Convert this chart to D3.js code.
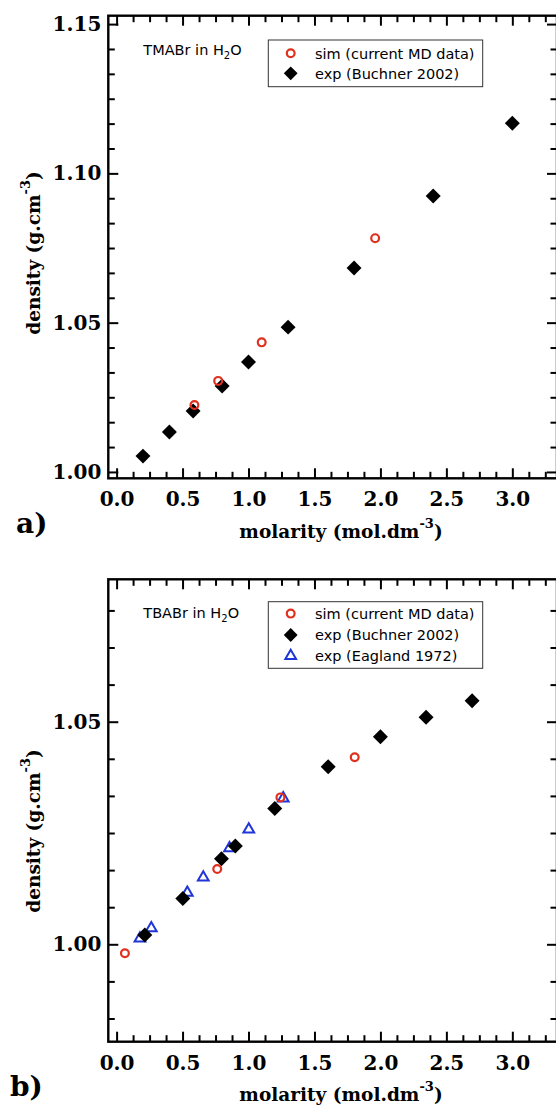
<!DOCTYPE html>
<html>
<head>
<meta charset="utf-8">
<script src="https://cdn.jsdelivr.net/npm/d3@7"></script>
<style>
  html, body { margin: 0; padding: 0; background: #fff; }
  svg { display: block; }
</style>
</head>
<body>
<svg id="chart" width="556" height="1106"></svg>
<script>
// ---------- data ----------
const xTickLabels = ["0.0", "0.5", "1.0", "1.5", "2.0", "2.5", "3.0"];
const yTickLabelsA = ["1.00", "1.05", "1.10", "1.15"];
const yTickLabelsB = ["1.00", "1.05"];

// panel a: TMABr in H2O
const tmaSimX = [0.59, 0.77, 1.10, 1.96];
const tmaSimY = [1.0224, 1.0305, 1.0434, 1.0783];
const tmaBuchX = [0.2, 0.4, 0.58, 0.8, 1.0, 1.3, 1.8, 2.4, 3.0];
const tmaBuchY = [1.0053, 1.0134, 1.0204, 1.0288, 1.0368, 1.0485, 1.0683, 1.0924, 1.1168];

// panel b: TBABr in H2O
const tbaSimX = [0.063, 0.763, 1.242, 1.805];
const tbaSimY = [0.9980, 1.0169, 1.0330, 1.0420];
const tbaBuchX = [0.214, 0.502, 0.795, 0.90, 1.199, 1.604, 2.0, 2.346, 2.695];
const tbaBuchY = [1.0021, 1.0103, 1.0192, 1.0221, 1.0305, 1.0399, 1.0466, 1.0510, 1.0547];
const tbaEagX = [0.177, 0.263, 0.536, 0.657, 0.856, 1.002, 1.263];
const tbaEagY = [1.0013, 1.0036, 1.0116, 1.0150, 1.0216, 1.0258, 1.0328];

const legendA = ["sim (current MD data)", "exp (Buchner 2002)"];
const legendB = ["sim (current MD data)", "exp (Buchner 2002)", "exp (Eagland 1972)"];

// ---------- styling ----------
const RED = "#e0301e", BLUE = "#1f35d8", BLACK = "#000";
const serif = "'DejaVu Serif', serif";
const sans = "'DejaVu Sans', sans-serif";

const svg = d3.select("#chart");

function zip(xs, ys) { return xs.map((x, i) => ({ x: x, y: ys[i] })); }

function drawPanel(cfg) {
  const g = svg.append("g");
  const x = d3.scaleLinear().domain(cfg.xDomain).range([cfg.left, cfg.right]);
  const y = d3.scaleLinear().domain(cfg.yDomain).range([cfg.bottom, cfg.top]);

  const xMajor = xTickLabels.map(d => +d);
  const xMinor = d3.range(0, 3.3, 0.125).filter(v => xMajor.every(m => Math.abs(m - v) > 1e-6));
  const yMajor = cfg.yLabels.map(d => +d);
  const yStep = 0.05 / 6;
  const yMinor = d3.range(Math.ceil(cfg.yDomain[0] / yStep) * yStep, cfg.yDomain[1], yStep)
    .filter(v => yMajor.every(m => Math.abs(m - v) > 1e-6));

  function styleAxis(sel) {
    sel.select(".domain").remove();
    sel.selectAll(".tick line").attr("stroke", BLACK).attr("stroke-width", 2);
    sel.selectAll("text").attr("font-family", serif).attr("font-weight", "bold")
      .attr("font-size", 20).attr("fill", BLACK);
  }

  // bottom
  g.append("g").attr("transform", `translate(0,${cfg.bottom})`)
    .call(d3.axisBottom(x).tickValues(xMinor).tickSize(-6.5).tickSizeOuter(0).tickFormat(""))
    .call(styleAxis);
  g.append("g").attr("transform", `translate(0,${cfg.bottom})`)
    .call(d3.axisBottom(x).tickValues(xMajor).tickSize(-10).tickSizeOuter(0)
      .tickPadding(14).tickFormat((d, i) => xTickLabels[i]))
    .call(styleAxis);
  // top
  g.append("g").attr("transform", `translate(0,${cfg.top})`)
    .call(d3.axisTop(x).tickValues(xMinor).tickSize(-6.5).tickSizeOuter(0).tickFormat(""))
    .call(styleAxis);
  g.append("g").attr("transform", `translate(0,${cfg.top})`)
    .call(d3.axisTop(x).tickValues(xMajor).tickSize(-10).tickSizeOuter(0).tickFormat(""))
    .call(styleAxis);
  // left
  g.append("g").attr("transform", `translate(${cfg.left},0)`)
    .call(d3.axisLeft(y).tickValues(yMinor).tickSize(-6.5).tickSizeOuter(0).tickFormat(""))
    .call(styleAxis);
  g.append("g").attr("transform", `translate(${cfg.left},0)`)
    .call(d3.axisLeft(y).tickValues(yMajor).tickSize(-10).tickSizeOuter(0)
      .tickPadding(7).tickFormat((d, i) => cfg.yLabels[i]))
    .call(styleAxis);
  // right
  g.append("g").attr("transform", `translate(${cfg.right},0)`)
    .call(d3.axisRight(y).tickValues(yMinor).tickSize(-6.5).tickSizeOuter(0).tickFormat(""))
    .call(styleAxis);
  g.append("g").attr("transform", `translate(${cfg.right},0)`)
    .call(d3.axisRight(y).tickValues(yMajor).tickSize(-10).tickSizeOuter(0).tickFormat(""))
    .call(styleAxis);

  // frame
  g.append("rect")
    .attr("x", cfg.left).attr("y", cfg.top)
    .attr("width", cfg.right - cfg.left).attr("height", cfg.bottom - cfg.top)
    .attr("fill", "none").attr("stroke", BLACK).attr("stroke-width", 2.4);

  // markers
  const tri = d3.symbol().type(d3.symbolTriangle).size(50);
  const sq = d3.symbol().type(d3.symbolSquare).size(112);

  if (cfg.eag) {
    g.append("g").selectAll("path").data(cfg.eag).join("path")
      .attr("d", tri)
      .attr("transform", d => `translate(${x(d.x)},${y(d.y)})`)
      .attr("fill", "none").attr("stroke", BLUE).attr("stroke-width", 2);
  }
  g.append("g").selectAll("path").data(cfg.buch).join("path")
    .attr("d", sq)
    .attr("transform", d => `translate(${x(d.x)},${y(d.y)}) rotate(45)`)
    .attr("fill", BLACK);
  g.append("g").selectAll("circle").data(cfg.sim).join("circle")
    .attr("cx", d => x(d.x)).attr("cy", d => y(d.y)).attr("r", 3.9)
    .attr("fill", "none").attr("stroke", RED).attr("stroke-width", 2.2);

  // legend
  const L = cfg.legend;
  g.append("rect").attr("x", L.x0).attr("y", L.y0).attr("width", L.x1 - L.x0).attr("height", L.y1 - L.y0)
    .attr("fill", "#fff").attr("stroke", "#333").attr("stroke-width", 1);
  cfg.legendLabels.forEach((lab, i) => {
    const cy = L.rows[i];
    if (i === 0) {
      g.append("circle").attr("cx", L.mx).attr("cy", cy).attr("r", 3.9)
        .attr("fill", "none").attr("stroke", RED).attr("stroke-width", 2.2);
    } else if (i === 1) {
      g.append("path").attr("d", d3.symbol().type(d3.symbolSquare).size(95))
        .attr("transform", `translate(${L.mx},${cy}) rotate(45)`).attr("fill", BLACK);
    } else {
      g.append("path").attr("d", tri).attr("transform", `translate(${L.mx},${cy})`)
        .attr("fill", "none").attr("stroke", BLUE).attr("stroke-width", 2);
    }
    g.append("text").attr("x", L.tx).attr("y", cy + 5.2)
      .attr("font-family", sans).attr("font-size", 14.5).attr("fill", BLACK).text(lab);
  });

  // annotation
  const ann = g.append("text").attr("x", cfg.annX).attr("y", cfg.annY)
    .attr("font-family", sans).attr("font-size", 14.5).attr("fill", BLACK);
  ann.append("tspan").text(cfg.ann + " in H");
  ann.append("tspan").attr("font-size", 10).attr("dy", 4).text("2");
  ann.append("tspan").attr("dy", -4).text("O");

  // x title
  const xt = g.append("text").attr("x", cfg.xTitleX).attr("y", cfg.xTitleY)
    .attr("text-anchor", "middle").attr("font-family", serif).attr("font-weight", "bold")
    .attr("font-size", 18.5).attr("fill", BLACK);
  xt.append("tspan").text("molarity (mol.dm");
  xt.append("tspan").attr("font-size", 13).attr("dy", -10).text("-3");
  xt.append("tspan").attr("dy", 10).text(")");

  // y title
  const yt = g.append("text")
    .attr("transform", `translate(${cfg.yTitleX},${cfg.yTitleY}) rotate(-90)`)
    .attr("text-anchor", "middle").attr("font-family", serif).attr("font-weight", "bold")
    .attr("font-size", 18.5).attr("fill", BLACK);
  yt.append("tspan").text("density (g.cm");
  yt.append("tspan").attr("font-size", 13).attr("dy", -10).text("-3");
  yt.append("tspan").attr("dy", 10).text(")");

  // panel letter
  g.append("text").attr("x", cfg.letterX).attr("y", cfg.letterY)
    .attr("font-family", serif).attr("font-weight", "bold").attr("font-size", 28)
    .attr("fill", BLACK).text(cfg.letter);
}

drawPanel({
  left: 108.3, right: 557, top: 15.7, bottom: 478.3,
  xDomain: [-0.0629, 3.3386], yDomain: [0.99787, 1.15281],
  yLabels: yTickLabelsA,
  sim: zip(tmaSimX, tmaSimY), buch: zip(tmaBuchX, tmaBuchY), eag: null,
  legend: { x0: 268.3, x1: 482.7, y0: 40, y1: 86.7, mx: 290.7, tx: 315, rows: [53.3, 73.3] },
  legendLabels: legendA,
  ann: "TMABr", annX: 143.3, annY: 55,
  xTitleX: 341, xTitleY: 538,
  yTitleX: 40, yTitleY: 253,
  letter: "a)", letterX: 16, letterY: 533
});

drawPanel({
  left: 108.3, right: 557, top: 579.3, bottom: 1041.7,
  xDomain: [-0.0629, 3.3386], yDomain: [0.97812, 1.08199],
  yLabels: yTickLabelsB,
  sim: zip(tbaSimX, tbaSimY), buch: zip(tbaBuchX, tbaBuchY), eag: zip(tbaEagX, tbaEagY),
  legend: { x0: 268.3, x1: 482.7, y0: 601.7, y1: 668.3, mx: 290.7, tx: 315, rows: [613.6, 635, 656] },
  legendLabels: legendB,
  ann: "TBABr", annX: 143.3, annY: 618.3,
  xTitleX: 341, xTitleY: 1101,
  yTitleX: 40, yTitleY: 831,
  letter: "b)", letterX: 10, letterY: 1096
});
</script>
</body>
</html>
